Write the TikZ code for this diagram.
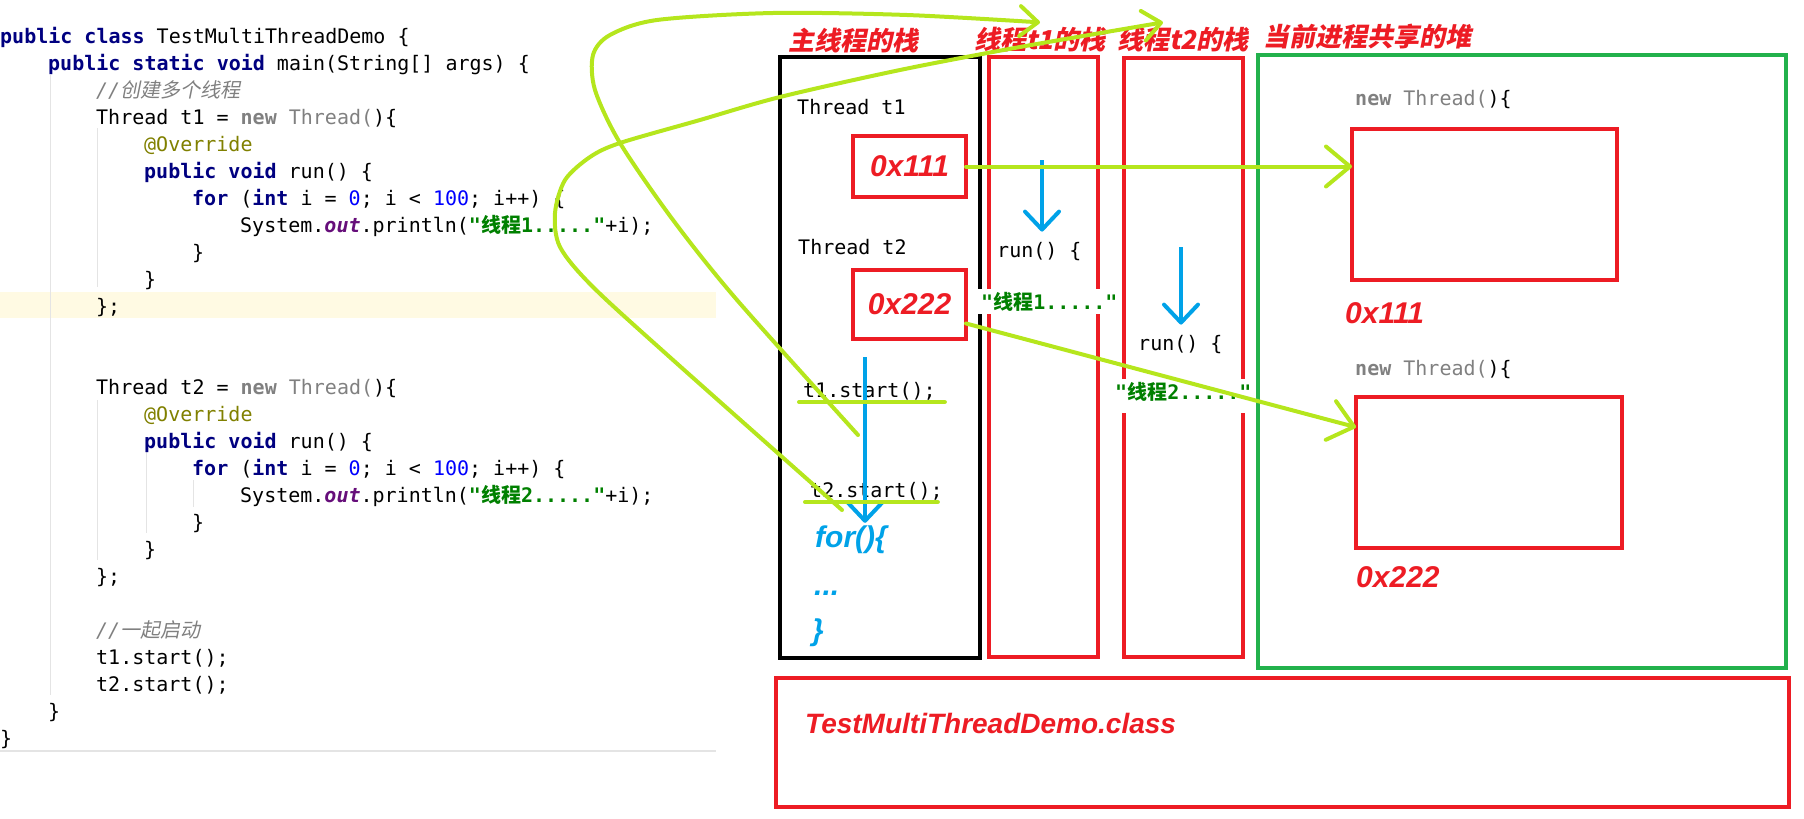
\documentclass[tikz,border=0pt]{standalone}
\usepackage{fontspec}
\setmonofont{DejaVu Sans Mono}
\newfontfamily\cjk{Noto Sans CJK SC}
\newfontfamily\cjksl{Noto Sans CJK SC}[FakeSlant=0.2]
\newfontfamily\labfont{Liberation Sans}
\usepackage{tikz}
\usetikzlibrary{arrows.meta,calc}

\definecolor{redc}{HTML}{ED1C24}
\definecolor{heapg}{HTML}{22B14C}
\definecolor{limeg}{HTML}{B5E61D}
\definecolor{bluec}{HTML}{00A2E8}
\definecolor{kwnavy}{HTML}{000080}
\definecolor{cmgray}{HTML}{808080}
\definecolor{annolive}{HTML}{808000}
\definecolor{numblue}{HTML}{0000FF}
\definecolor{fldpurple}{HTML}{660E7A}
\definecolor{strgreen}{HTML}{008000}
\definecolor{caretbg}{HTML}{FFFAE3}
\definecolor{guide}{HTML}{E4E4E4}

\newcommand\jkw[1]{\textcolor{kwnavy}{\bfseries #1}}
\newcommand\jcmt[1]{\textcolor{cmgray}{\itshape //{\cjksl #1}}}
\newcommand\jstr[1]{\textcolor{strgreen}{\bfseries "{\cjk 线程}#1....."}}
\newcommand\jnum[1]{\textcolor{numblue}{#1}}
\newcommand\jfld[1]{\textcolor{fldpurple}{\bfseries\itshape #1}}
\newcommand\jann[1]{\textcolor{annolive}{#1}}
\newcommand\jgray[1]{\textcolor{cmgray}{#1}}

\tikzset{
  code/.style={anchor=base west, inner sep=0pt, font=\ttfamily\fontsize{20}{24}\selectfont},
  stackbox/.style={draw=#1, line width=4.5pt, anchor=north west, inner sep=0pt, outer sep=0pt},
  title/.style={text=redc, inner sep=5pt, font=\cjksl\bfseries\fontsize{26}{30}\selectfont},
  addr/.style={text=redc, inner sep=0pt, font=\labfont\bfseries\itshape\fontsize{30}{36}\selectfont},
  bluetxt/.style={text=bluec, anchor=west, inner sep=0pt, font=\labfont\bfseries\itshape\fontsize{30}{36}\selectfont},
  strlab/.style={code, fill=white, inner sep=3pt, text=strgreen, font=\ttfamily\bfseries\fontsize{20}{24}\selectfont},
  limeline/.style={draw=limeg, line width=4pt, line cap=round},
  limearrow/.style={limeline, -{Straight Barb[length=24pt,width=40pt,round]}},
  limecurve/.style={limeline, -{Straight Barb[length=18pt,width=30pt,round]}},
  bluearrow/.style={draw=bluec, line width=4pt, -{Straight Barb[length=18pt,width=34pt,round]}},
}

\begin{document}
\begin{tikzpicture}[x=1pt, y=-1pt]
  \useasboundingbox (0,0) rectangle (1804,819);

  % source code on the left
  \fill[caretbg] (0,292) rectangle (716,318);
  \draw[guide, line width=1pt] (50,75) -- (50,695);
  \draw[guide, line width=1pt] (97,128) -- (97,287);
  \draw[guide, line width=1pt] (97,400) -- (97,560);
  \draw[guide, line width=1pt] (146,450) -- (146,533);
  \draw[guide, line width=1pt] (193,480) -- (193,507);
  \draw[guide, line width=2pt] (0,751) -- (716,751);

  \node[code] (c0) at (0,43) {\jkw{public} \jkw{class} TestMultiThreadDemo \{};
  \node[code] (c1) at (48,70) {\jkw{public} \jkw{static} \jkw{void} main(String[] args) \{};
  \node[code] (c2) at (96,97) {\jcmt{创建多个线程}};
  \node[code] (c3) at (96,124) {Thread t1 = \jgray{\textbf{new} Thread(})\{};
  \node[code] (c4) at (144,151) {\jann{@Override}};
  \node[code] (c5) at (144,178) {\jkw{public} \jkw{void} run() \{};
  \node[code] (c6) at (192,205) {\jkw{for} (\jkw{int} i = \jnum{0}; i < \jnum{100}; i++) \{};
  \node[code] (c7) at (240,232) {System.\jfld{out}.println(\jstr{1}+i);};
  \node[code] (c8) at (192,259) {\}};
  \node[code] (c9) at (144,286) {\}};
  \node[code] (c10) at (96,313) {\};};
  \node[code] (c13) at (96,394) {Thread t2 = \jgray{\textbf{new} Thread(})\{};
  \node[code] (c14) at (144,421) {\jann{@Override}};
  \node[code] (c15) at (144,448) {\jkw{public} \jkw{void} run() \{};
  \node[code] (c16) at (192,475) {\jkw{for} (\jkw{int} i = \jnum{0}; i < \jnum{100}; i++) \{};
  \node[code] (c17) at (240,502) {System.\jfld{out}.println(\jstr{2}+i);};
  \node[code] (c18) at (192,529) {\}};
  \node[code] (c19) at (144,556) {\}};
  \node[code] (c20) at (96,583) {\};};
  \node[code] (c22) at (96,637) {\jcmt{一起启动}};
  \node[code] (c23) at (96,664) {t1.start();};
  \node[code] (c24) at (96,691) {t2.start();};
  \node[code] (c25) at (48,718) {\}};
  \node[code] (c26) at (0,745) {\}};

  % memory boxes
  \node[stackbox=black, minimum width=200pt, minimum height=601pt] (mainstk) at (780,57) {};
  \node[stackbox=redc, minimum width=109pt, minimum height=600pt] (stk1) at (989,57) {};
  \node[stackbox=redc, minimum width=119pt, minimum height=599pt] (stk2) at (1124,58) {};
  \node[stackbox=heapg, minimum width=528pt, minimum height=613pt] (heap) at (1258,55) {};
  \node[stackbox=redc, minimum width=1013pt, minimum height=129pt] (classbox) at (776,678) {};
  \node[stackbox=redc, minimum width=265pt, minimum height=151pt] (heap1) at (1352,129) {};
  \node[stackbox=redc, minimum width=266pt, minimum height=151pt] (heap2) at (1356,397) {};
  \node[stackbox=redc, addr, anchor=center, minimum width=113pt, minimum height=61pt] (ref1) at (909.5,166.5) {0x111};
  \node[stackbox=redc, addr, anchor=center, minimum width=113pt, minimum height=69pt] (ref2) at (909.5,304.5) {0x222};

  % titles
  \node[title] (tt0) at (853,41) {主线程的栈};
  \node[title] (tt1) at (1040,40) {线程t1的栈};
  \node[title] (tt2) at (1183,40) {线程t2的栈};
  \node[title] (tt3) at (1367,37) {当前进程共享的堆};

  % texts in the stacks and the heap
  \node[code] (th1) at (797,114) {Thread t1};
  \node[code] (th2) at (798,254) {Thread t2};
  \node[code] (t1s) at (803,397) {t1.start();};
  \node[code] (t2s) at (810,497) {t2.start();};
  \node[bluetxt] (forl) at (815,540) {for()\{};
  \node[bluetxt] (dots) at (814,593) {...};
  \node[bluetxt] (brace) at (812,633) {\}};
  \node[code] (run1) at (997,257) {run() \{};
  \node[code] (run2) at (1138,350) {run() \{};
  \node[strlab] (lab1) at (978,309) {"{\cjk 线程}1....."};
  \node[strlab, text depth=11pt] (lab2) at (1112,399) {"{\cjk 线程}2....."};
  \node[code] (nt1) at (1355,105) {\jgray{\textbf{new} Thread(})\{};
  \node[code] (nt2) at (1355,375) {\jgray{\textbf{new} Thread(})\{};
  \node[addr, anchor=west] (hl1) at (1345,313) {0x111};
  \node[addr, anchor=west] (hl2) at (1356,577) {0x222};
  \node[addr, anchor=west, font=\labfont\bfseries\itshape\fontsize{28}{34}\selectfont] (cls) at (805,723) {TestMultiThreadDemo.class};

  % blue flow arrows
  \coordinate (m0) at (865,357);
  \coordinate (b1) at (1042,160);
  \coordinate (b2) at (1181,247);
  \draw[bluearrow, shorten >=3pt] (m0) -- (m0 |- forl.north);
  \draw[bluearrow, shorten >=10pt] (b1) -- (b1 |- run1.north);
  \draw[bluearrow, shorten >=10pt] (b2) -- (b2 |- run2.north);

  % lime marks
  \draw[limeline] ([xshift=-4pt,yshift=-2pt]t1s.south west) -- ([xshift=9pt,yshift=-2pt]t1s.south east);
  \draw[limeline] ([xshift=-5pt,yshift=-2pt]t2s.south west) -- ([xshift=-5pt,yshift=-2pt]t2s.south east);
  \draw[limearrow] (ref1.east) -- (ref1.east -| heap1.west);
  \draw[limearrow] ($(ref2.east)!0.55!(ref2.south east)$) -- ($(heap2.north west)!0.2!(heap2.south west)$);

  \coordinate (s1) at (858,435);
  \coordinate (s2) at (842,510);
  \draw[limecurve] plot[smooth] coordinates {(s1) (737,300) (673,220) (620,143) (595,90) (593,55) (610,35) (657,20) (773,13) (907,15) (tt1.north)};
  \draw[limecurve] plot[smooth] coordinates {(s2) (673,360) (593,287) (560,247) (555,213) (565,180) (590,157) (620,143) (700,120) (780,97) (900,70) (1020,47) ([xshift=-20pt]tt2.north)};
\end{tikzpicture}
\end{document}
